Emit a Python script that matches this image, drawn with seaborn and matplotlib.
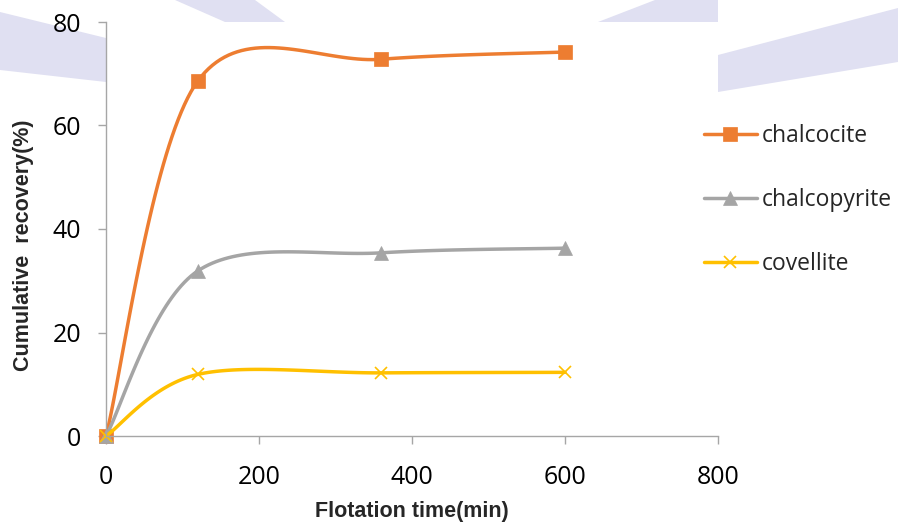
import numpy as np
import pandas as pd
import matplotlib
matplotlib.use("Agg")
import matplotlib.pyplot as plt
from matplotlib.lines import Line2D
from matplotlib.patches import Polygon
import seaborn as sns

# values
TIME = [0, 120, 360, 600]
CHALCOCITE = [0.0, 68.6, 72.8, 74.2]
CHALCOPYRITE = [0.0, 31.9, 35.4, 36.3]
COVELLITE = [0.0, 11.9, 12.2, 12.3]

MINERALS = ["chalcocite", "chalcopyrite", "covellite"]
SERIES = [CHALCOCITE, CHALCOPYRITE, COVELLITE]
COLORS = ["#ED7D31", "#A5A5A5", "#FFC000"]
MARKERS = ["s", "^", "x"]
MSIZES = [9.5, 9.5, 9]

N_SEG = 40
W, H = 898, 522


def smooth(xs, ys, n=N_SEG):
    """Excel-like smoothed line: cubic Bezier per segment with Catmull-Rom tangents."""
    p = np.column_stack([xs, ys]).astype(float)
    ext = np.vstack([p[0], p, p[-1]])
    t = np.linspace(0, 1, n, endpoint=False)[:, None]
    out = []
    for i in range(len(p) - 1):
        p0, p3 = p[i], p[i + 1]
        c1 = p0 + (ext[i + 2] - ext[i]) / 6
        c2 = p3 - (ext[i + 3] - ext[i + 1]) / 6
        out.append((1 - t) ** 3 * p0 + 3 * (1 - t) ** 2 * t * c1
                   + 3 * (1 - t) * t ** 2 * c2 + t ** 3 * p3)
    out.append(p[-1][None, :])
    return np.vstack(out)


sns.set_style("white")
plt.rcParams["font.family"] = ["Open Sans", "DejaVu Sans"]

fig = plt.figure(figsize=(W / 100, H / 100), dpi=100)
fig.patch.set_facecolor("white")

# faint watermark bands behind the plot area (pixel coords)
bands = [
    [(0, 12), (106, 38), (106, 82), (0, 70)],
    [(175, 0), (255, 0), (285, 22), (225, 22)],
    [(598, 22), (655, 0), (718, 0), (718, 22)],
    [(718, 55), (898, 8), (898, 62), (718, 92)],
]
for b in bands:
    fig.add_artist(Polygon([(x / W, 1 - y / H) for x, y in b], closed=True,
                           transform=fig.transFigure, facecolor="#e0e0f2",
                           edgecolor="none", zorder=-1))

ax = fig.add_axes([106 / W, 1 - 436 / H, (718 - 106) / W, (436 - 22) / H])
ax.set_facecolor("white")

idx = [i * N_SEG for i in range(len(TIME))]
for name, vals, c, m, ms in zip(MINERALS, SERIES, COLORS, MARKERS, MSIZES):
    pts = smooth(TIME, vals)
    df = pd.DataFrame({"time": pts[:, 0], "recovery": pts[:, 1]})
    sns.lineplot(data=df, x="time", y="recovery", ax=ax, color=c, linewidth=2.5,
                 sort=False, estimator=None, marker=m, markersize=ms,
                 markeredgecolor=c, markerfacecolor=c,
                 markeredgewidth=1.2 if m == "x" else 0.5, markevery=idx,
                 clip_on=False)

ax.set_xlim(0, 800)
ax.set_ylim(0, 80)
ax.set_xticks([0, 200, 400, 600, 800])
ax.set_yticks([0, 20, 40, 60, 80])

for s in ["top", "right"]:
    ax.spines[s].set_visible(False)
for s in ["left", "bottom"]:
    ax.spines[s].set_color("#a6a6a6")
    ax.spines[s].set_linewidth(1.0)

ax.tick_params(axis="y", direction="out", length=6, width=1, color="#a6a6a6",
               pad=12, labelsize=18, labelcolor="black", left=True)
ax.tick_params(axis="x", direction="out", length=6, width=1, color="#a6a6a6",
               pad=15, labelsize=18, labelcolor="black", bottom=True)

ax.set_xlabel("Flotation time(min)", fontsize=15.5, fontweight="bold",
              family=["Liberation Sans", "DejaVu Sans"], labelpad=8)
ax.set_ylabel("Cumulative  recovery(%)", fontsize=15.5, fontweight="bold",
              family=["Liberation Sans", "DejaVu Sans"])
ax.yaxis.set_label_coords(-0.117, 0.461)

handles = [Line2D([], [], color=c, linewidth=2.5, marker=m, markersize=ms,
                  markeredgecolor=c, markerfacecolor=c,
                  markeredgewidth=1.2 if m == "x" else 0.5)
           for c, m, ms in zip(COLORS, MARKERS, MSIZES)]
fig.legend(handles, MINERALS, loc="upper left",
           bbox_to_anchor=(704 / W, 1 - 124 / H), frameon=False, fontsize=16.5,
           handlelength=2.3, handletextpad=0.2, labelspacing=1.75,
           borderpad=0, borderaxespad=0)

fig.savefig("out.png", dpi=100)
